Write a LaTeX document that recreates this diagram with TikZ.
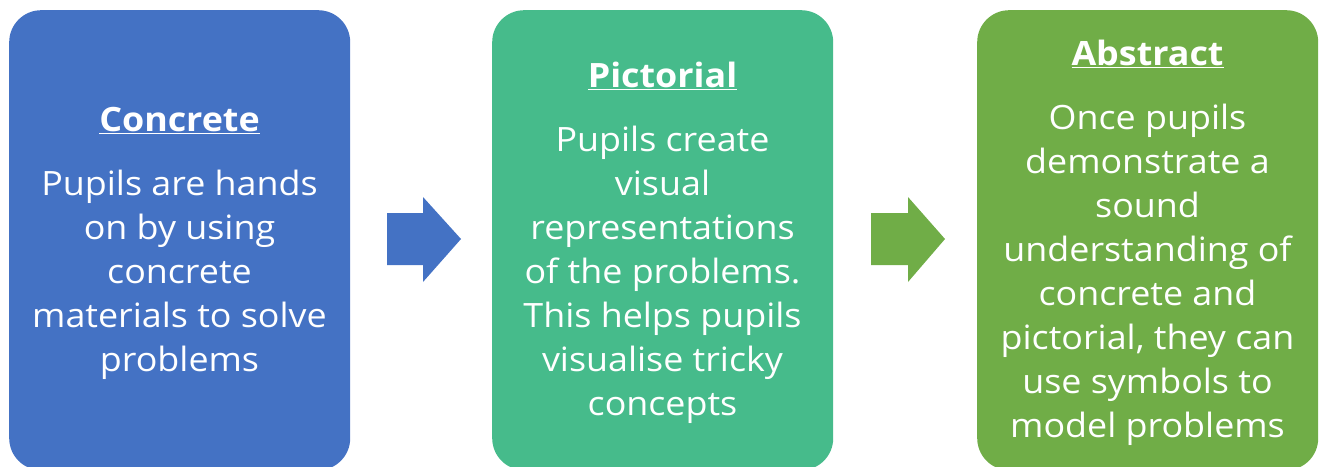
\documentclass[tikz,border=0pt]{standalone}
\usepackage{fontspec}
\setmainfont{Open Sans}[FakeStretch=1.07]
\definecolor{cpaBlue}{HTML}{4472C4}
\definecolor{cpaTeal}{HTML}{46BB8B}
\definecolor{cpaGreen}{HTML}{70AD47}
\begin{document}
\begin{tikzpicture}[x=1pt,y=-1pt,
  stage/.style={rounded corners=32pt, minimum width=341pt, minimum height=460pt,
                inner sep=0pt, anchor=north west, draw=none},
  stagetext/.style={text=white, align=center, inner sep=0pt,
                    font=\fontsize{33.5}{44}\selectfont}]
\useasboundingbox (0,0) rectangle (1320,466);

% the three stages
\node[stage, fill=cpaBlue]  (concrete)  at (9,10)   {};
\node[stage, fill=cpaTeal]  (pictorial) at (492,10) {};
\node[stage, fill=cpaGreen] (abstract)  at (977,10) {};

\node[stagetext] (concreteText) at (179.5,243) {%
  \underline{\textbf{Concrete}}\\[20pt]
  Pupils are hands\\ on by using\\ concrete\\ materials to solve\\ problems};
\node[stagetext] (pictorialText) at (662.5,243) {%
  \underline{\textbf{Pictorial}}\\[20pt]
  Pupils create\\ visual\\ representations\\ of the problems.\\ This helps pupils\\ visualise tricky\\ concepts};
\node[stagetext] (abstractText) at (1147.5,243) {%
  \underline{\textbf{Abstract}}\\[20pt]
  Once pupils\\ demonstrate a\\ sound\\ understanding of\\ concrete and\\ pictorial, they can\\ use symbols to\\ model problems};

% block arrows between the stages
\fill[cpaBlue]  (387,213) -- (423,213) -- (423,197) -- (461,239)
                -- (423,282) -- (423,265) -- (387,265) -- cycle;
\fill[cpaGreen] (871,213) -- (908,213) -- (908,197) -- (945,239)
                -- (908,282) -- (908,265) -- (871,265) -- cycle;
\end{tikzpicture}
\end{document}
